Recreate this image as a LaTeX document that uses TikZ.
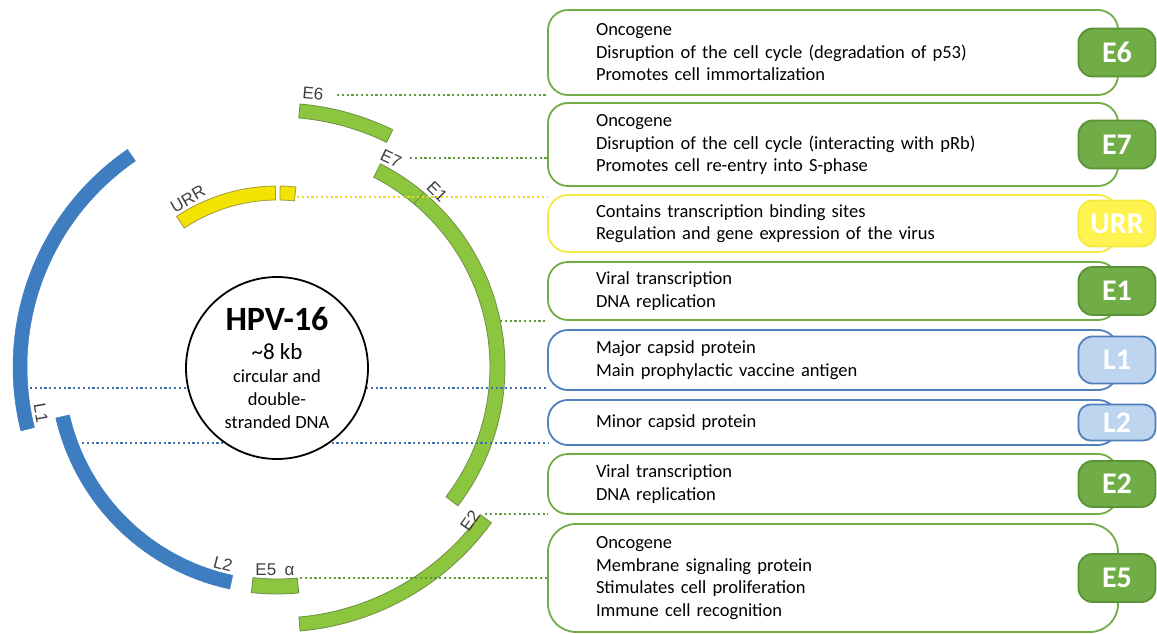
\documentclass[tikz,border=0pt]{standalone}
\usepackage{fontspec}
\setmainfont{Carlito}
\newfontfamily\mapfont{Liberation Sans}
\usetikzlibrary{positioning}
\definecolor{genegreen}{HTML}{8CC63F}
\definecolor{geneedge}{HTML}{6F8F45}
\definecolor{geneblue}{HTML}{3F7DC1}
\definecolor{geneyellow}{HTML}{F3E300}
\definecolor{yellowedge}{HTML}{A39A3C}
\definecolor{boxgreen}{HTML}{70AD47}
\definecolor{boxyellow}{HTML}{F2EA3D}
\definecolor{boxblue}{HTML}{4F7FBD}
\definecolor{tagedge}{HTML}{5A9237}
\definecolor{tagyellow}{HTML}{FFF44F}
\definecolor{tagblue}{HTML}{BDD5EE}
\definecolor{dotgreen}{HTML}{5F9A3C}
\definecolor{dotyellow}{HTML}{E6D92A}
\definecolor{dotblue}{HTML}{4470AE}
\definecolor{labelgray}{HTML}{3F3F3F}

\begin{document}
\begin{tikzpicture}[x=1pt,y=-1pt,node distance=9pt,
  box/.style={rectangle,rounded corners=20pt,draw=#1,line width=1.8pt,fill=white,
    text width=474pt,inner xsep=48pt,inner ysep=0pt,outer sep=0pt,align=left,
    font=\fontsize{18.5}{22.5}\selectfont},
  badge/.style={rectangle,rounded corners=14pt,line width=1.8pt,minimum width=77pt,
    minimum height=48pt,inner sep=0pt,text=white,font=\fontsize{30}{30}\selectfont\bfseries},
  seggreen/.style={fill=genegreen,draw=geneedge,line width=0.8pt},
  segblue/.style={fill=geneblue,draw=geneblue,line width=0.5pt},
  segyellow/.style={fill=geneyellow,draw=yellowedge,line width=0.8pt},
  lbl/.style={font=\mapfont\fontsize{17}{17}\selectfont,text=labelgray,inner sep=0pt},
  dotline/.style={draw=#1,line width=2.2pt,dash pattern=on 2.2pt off 2.6pt}]
  \useasboundingbox (0,0) rectangle (1157,634);

  % genome ring, angles measured clockwise from the right
  \begin{scope}[shift={(277,367)}]
    \filldraw[seggreen] plot[domain=-85:-64,samples=20] (\x:264) -- plot[domain=-64:-85,samples=20] (\x:250) -- cycle;
    \filldraw[seggreen] plot[domain=-63:-50,samples=15] (\x:228) -- plot[domain=-50:-63,samples=15] (\x:213) -- cycle;
    \filldraw[seggreen] plot[domain=-50:37.5,samples=60] (\x:228) -- plot[domain=37.5:-50,samples=60] (\x:213) -- cycle;
    \filldraw[seggreen] plot[domain=36:85,samples=40] (\x:265) -- plot[domain=85:36,samples=40] (\x:251) -- cycle;
    \filldraw[seggreen] plot[domain=84.5:96.5,samples=10] (\x:227) -- plot[domain=96.5:84.5,samples=10] (\x:212) -- cycle;
    \filldraw[segblue] plot[domain=102:167,samples=50] (\x:227) -- plot[domain=167:102,samples=50] (\x:213) -- cycle;
    \filldraw[segblue] plot[domain=166:235.5,samples=50] (\x:264) -- plot[domain=235.5:166,samples=50] (\x:250) -- cycle;
    \filldraw[segyellow] plot[domain=236.3:269.5,samples=30] (\x:181) -- plot[domain=269.5:236.3,samples=30] (\x:167) -- cycle;
    \filldraw[segyellow] plot[domain=271:276,samples=5] (\x:181) -- plot[domain=276:271,samples=5] (\x:167) -- cycle;
  \end{scope}

  \node[lbl,rotate=-5] (e6lbl) at (313,94) {E6};
  \node[lbl,rotate=-25] (e7lbl) at (391,159) {E7};
  \node[lbl,rotate=-45] (e1lbl) at (437,192) {E1};
  \node[lbl,rotate=55] (e2lbl) at (470,521) {E2};
  \node[lbl] (e5lbl) at (275,570) {E5\enspace α};
  \node[lbl,rotate=-15] (l2lbl) at (223,564) {L2};
  \node[lbl,rotate=-80] (l1lbl) at (41,413) {L1};
  \node[lbl,rotate=30] (urrlbl) at (188,199) {URR};

  % description boxes
  \node[box=boxgreen,minimum height=85pt,anchor=north west] (e6box) at (548,10)
    {Oncogene\\Disruption of the cell cycle (degradation of p53)\\Promotes cell immortalization};
  \node[box=boxgreen,minimum height=83pt,below=8pt of e6box] (e7box)
    {Oncogene\\Disruption of the cell cycle (interacting with pRb)\\Promotes cell re-entry into S-phase};
  \node[box=boxyellow,minimum height=57pt,below=9pt of e7box] (urrbox)
    {Contains transcription binding sites\\Regulation and gene expression of the virus};
  \node[box=boxgreen,minimum height=58pt,below=10pt of urrbox] (e1box)
    {Viral transcription\\DNA replication};
  \node[box=boxblue,minimum height=60pt,below=10pt of e1box] (l1box)
    {Major capsid protein\\Main prophylactic vaccine antigen};
  \node[box=boxblue,minimum height=45pt,below=10pt of l1box] (l2box)
    {Minor capsid protein};
  \node[box=boxgreen,minimum height=60pt,below=9pt of l2box] (e2box)
    {Viral transcription\\DNA replication};
  \node[box=boxgreen,minimum height=108pt,rounded corners=28pt,below=10pt of e2box] (e5box)
    {Oncogene\\Membrane signaling protein\\Stimulates cell proliferation\\Immune cell recognition};

  \node[badge,fill=boxgreen,draw=tagedge] (e6tag) at ([xshift=-1pt]e6box.east) {E6};
  \node[badge,fill=boxgreen,draw=tagedge] (e7tag) at ([xshift=-1pt]e7box.east) {E7};
  \node[badge,fill=tagyellow,draw=boxyellow,minimum height=46pt] (urrtag) at ([xshift=-1pt]urrbox.east) {URR};
  \node[badge,fill=boxgreen,draw=tagedge] (e1tag) at ([xshift=-1pt]e1box.east) {E1};
  \node[badge,fill=tagblue,draw=boxblue,minimum height=47pt] (l1tag) at ([xshift=-1pt]l1box.east) {L1};
  \node[badge,fill=tagblue,draw=boxblue,minimum height=36pt,rounded corners=12pt] (l2tag) at ([xshift=-1pt]l2box.east) {L2};
  \node[badge,fill=boxgreen,draw=tagedge,minimum height=46pt] (e2tag) at ([xshift=-1pt]e2box.east) {E2};
  \node[badge,fill=boxgreen,draw=tagedge] (e5tag) at ([xshift=-1pt]e5box.east) {E5};

  % dotted leaders from the genes to their boxes
  \coordinate (e6end) at (337,95);
  \coordinate (e7end) at (410,158);
  \coordinate (urrend) at (297,197);
  \coordinate (e1end) at (500,321);
  \coordinate (l1end) at (30,388);
  \coordinate (l2end) at (82,443);
  \coordinate (e2end) at (485,514);
  \coordinate (e5end) at (300,578);
  \draw[dotline=dotgreen] (e6end) -- (e6end -| e6box.west);
  \draw[dotline=dotgreen] (e7end) -- (e7end -| e7box.west);
  \draw[dotline=dotyellow] (urrend) -- (urrend -| urrbox.west);
  \draw[dotline=dotgreen] (e1end) -- (e1end -| e1box.west);
  \draw[dotline=dotblue] (l1end) -- (l1end -| l1box.west);
  \draw[dotline=dotblue] (l2end) -- (l2end -| l2box.west);
  \draw[dotline=dotgreen] (e2end) -- (e2end -| e2box.west);
  \draw[dotline=dotgreen] (e5end) -- (e5end -| e5box.west);

  \node[circle,draw=black,line width=1.8pt,fill=white,minimum size=182pt,inner sep=0pt,align=center,
    font=\fontsize{18.5}{23}\selectfont] (hpv) at (277,368)
    {{\fontsize{34}{38}\selectfont\bfseries HPV-16}\\[6pt]
     {\fontsize{23}{26}\selectfont\textasciitilde8 kb}\\
     circular and\\double-\\stranded DNA};
\end{tikzpicture}
\end{document}
